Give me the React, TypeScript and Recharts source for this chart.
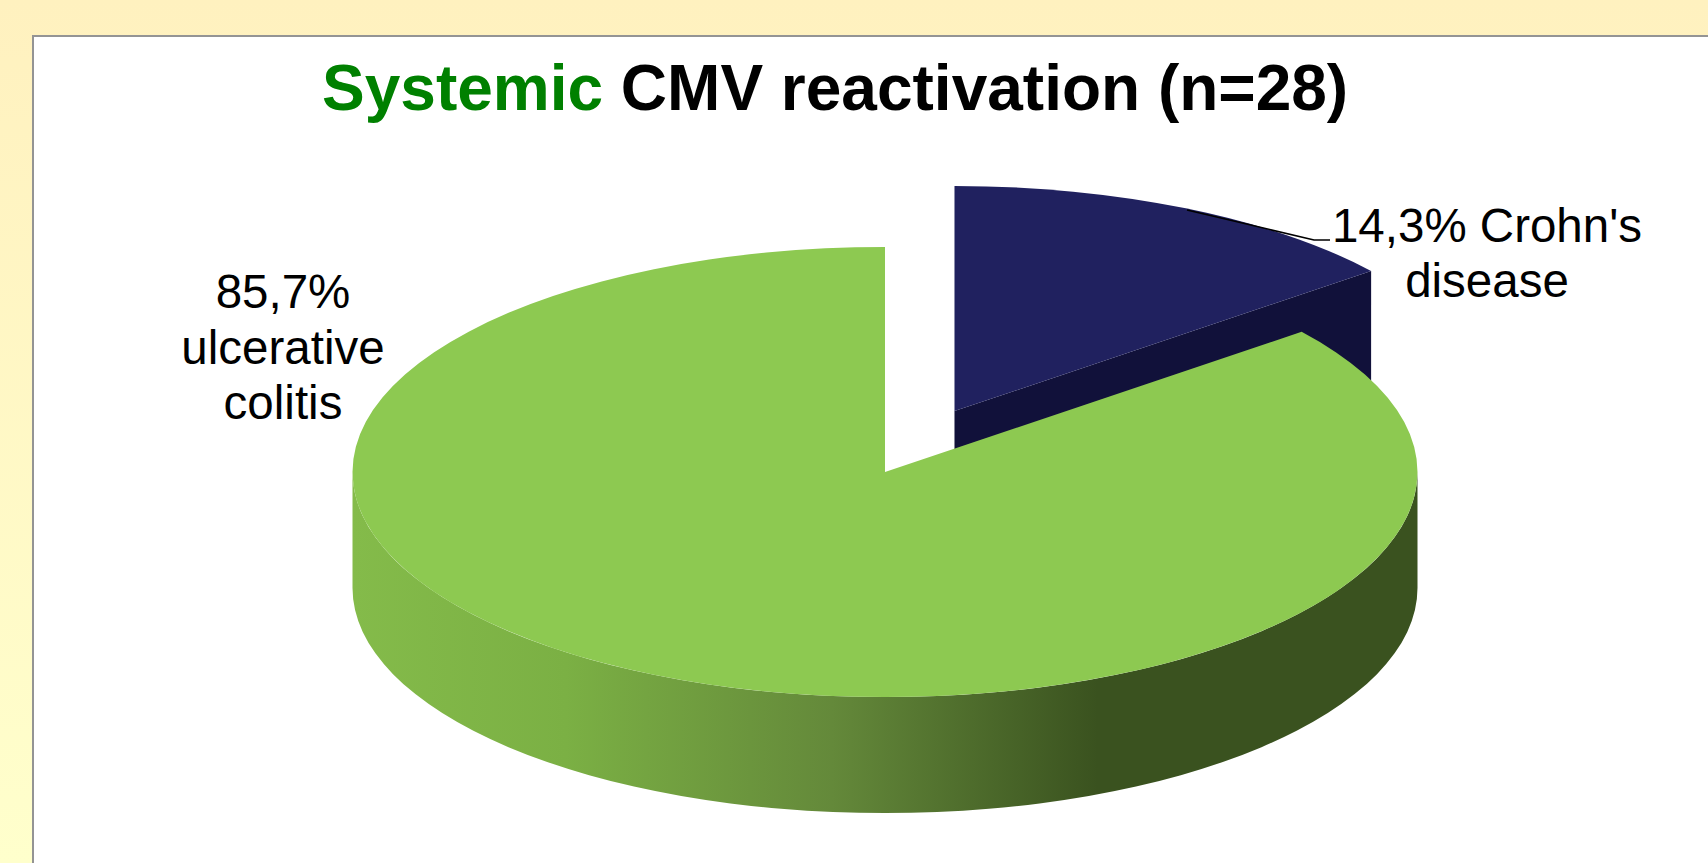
import { Pie, PieChart } from 'recharts'

const sliceNames = ["Crohn's disease", 'ulcerative colitis']
const sliceValues = [14.3, 85.7]
const sliceColors = ['#20215f', '#8dc951']
const cutColors = ['#11113a', '#3a521f']
const explodeOffsets = [160, 0]

const labelLines = [["14,3% Crohn's", 'disease'], ['85,7%', 'ulcerative', 'colitis']]

const chartData = sliceNames.map((name, i) => ({ name, value: sliceValues[i] }))

const WIDTH = 1708
const HEIGHT = 863
const SQUASH = 0.4227
const DEPTH = 116
const RAD = Math.PI / 180

const PieSlice3D = (props: any) => {
  const { cx, cy, outerRadius: r, startAngle, endAngle, index } = props
  const ry = r * SQUASH
  const mid = ((startAngle + endAngle) / 2) * RAD
  const off = explodeOffsets[index] ?? 0
  const ox = cx + off * Math.cos(mid)
  const oy = cy - off * SQUASH * Math.sin(mid)
  const pt = (a: number, dy = 0) => [ox + r * Math.cos(a * RAD), oy - ry * Math.sin(a * RAD) + dy].join(' ')

  const large = startAngle - endAngle > 180 ? 1 : 0
  const top = `M ${ox} ${oy} L ${pt(startAngle)} A ${r} ${ry} 0 ${large} 1 ${pt(endAngle)} Z`

  // outer wall, only the part of the rim that faces the viewer
  const hi = Math.min(startAngle, 0)
  const lo = Math.max(endAngle, -180)
  const wall =
    hi > lo
      ? `M ${pt(hi)} A ${r} ${ry} 0 0 1 ${pt(lo)} L ${pt(lo, DEPTH)} A ${r} ${ry} 0 0 0 ${pt(hi, DEPTH)} Z`
      : null

  // cut faces that look downwards
  const face = (a: number) =>
    `M ${ox} ${oy} L ${pt(a)} L ${pt(a, DEPTH)} L ${ox} ${oy + DEPTH} Z`
  const showEnd = Math.sin((endAngle - 90) * RAD) < -0.001
  const showStart = Math.sin((startAngle + 90) * RAD) < -0.001

  return (
    <g>
      <defs>
        <linearGradient id="pieWall" x1="0" y1="0" x2="1" y2="0">
          <stop offset="0" stopColor="#84bb4a" />
          <stop offset="0.2" stopColor="#7bb044" />
          <stop offset="0.45" stopColor="#64893a" />
          <stop offset="0.7" stopColor="#3a521f" />
          <stop offset="1" stopColor="#3a521f" />
        </linearGradient>
      </defs>
      {showEnd && <path d={face(endAngle)} fill={cutColors[index]} />}
      {showStart && <path d={face(startAngle)} fill={cutColors[index]} />}
      {wall && <path d={wall} fill="url(#pieWall)" />}
      <path d={top} fill={sliceColors[index]} />
    </g>
  )
}

const labelAnchors = [
  { x: 1487, y: 242, step: 54.5 },
  { x: 283, y: 308, step: 55.5 },
]

const SliceLabel = ({ index }: any) => {
  const a = labelAnchors[index]
  return (
    <g>
      {index === 0 && <path d="M 1187 210 L 1314 240 L 1330 240" fill="none" stroke="#000" strokeWidth={1.5} />}
      <text textAnchor="middle" fontFamily="'Liberation Sans'" fontSize={47.5} fill="#000">
        {labelLines[index].map((line, i) => (
          <tspan key={line} x={a.x} y={a.y + i * a.step}>
            {line}
          </tspan>
        ))}
      </text>
    </g>
  )
}

const App = () => {
  return (
    <div
      style={{
        position: 'absolute',
        left: 0,
        top: 0,
        width: WIDTH,
        height: HEIGHT,
        overflow: 'hidden',
        background: 'linear-gradient(#fff1bf, #ffffcc)',
      }}
    >
      <div
        style={{
          position: 'absolute',
          left: 32,
          top: 35,
          width: WIDTH,
          height: HEIGHT,
          background: '#fff',
          border: '2px solid #949494',
        }}
      />
      <div
        style={{
          position: 'absolute',
          left: 322,
          top: 52,
          fontFamily: "'Liberation Sans'",
          fontSize: 64,
          lineHeight: '72px',
          fontWeight: 700,
          whiteSpace: 'pre',
          color: '#000',
        }}
      >
        <span style={{ color: '#008000' }}>Systemic</span> CMV reactivation (n=28)
      </div>
      <div style={{ position: 'absolute', left: 0, top: 0 }}>
        <PieChart width={WIDTH} height={HEIGHT} margin={{ top: 0, right: 0, bottom: 0, left: 0 }}>
          <Pie
            data={chartData}
            dataKey="value"
            nameKey="name"
            cx={885}
            cy={472}
            outerRadius={532.5}
            startAngle={90}
            endAngle={-270}
            stroke="none"
            shape={PieSlice3D}
            label={SliceLabel}
            labelLine={false}
            isAnimationActive={false}
          />
        </PieChart>
      </div>
    </div>
  )
}

export default App
